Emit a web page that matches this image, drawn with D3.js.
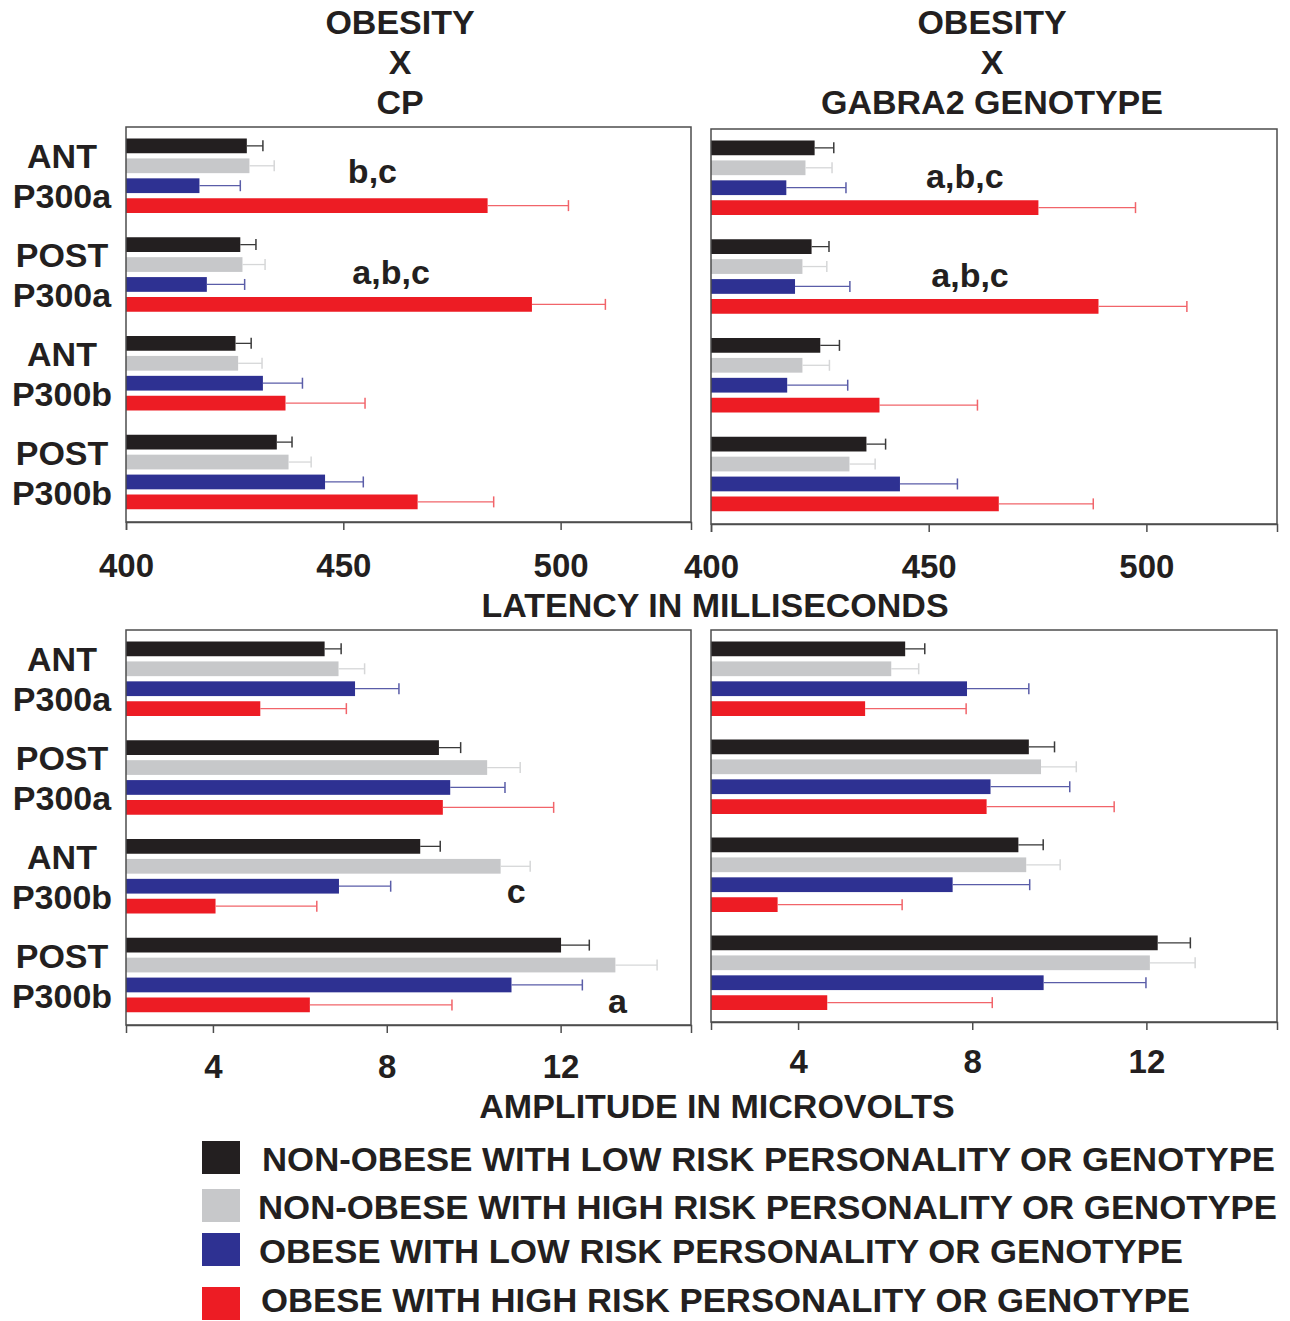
<!DOCTYPE html>
<html>
<head>
<meta charset="utf-8">
<script src="https://cdnjs.cloudflare.com/ajax/libs/d3/7.8.5/d3.min.js"></script>
<style>
  body { margin: 0; background: #fff; }
  text { font-family: "Liberation Sans", Arial, sans-serif; font-weight: bold; fill: #231f20; }
</style>
</head>
<body>
<div id="chart"></div>
<script>
// rows and bar series
var groups = ["ANT P300a", "POST P300a", "ANT P300b", "POST P300b"];
var series = [
  "NON-OBESE WITH LOW RISK PERSONALITY OR GENOTYPE",
  "NON-OBESE WITH HIGH RISK PERSONALITY OR GENOTYPE",
  "OBESE WITH LOW RISK PERSONALITY OR GENOTYPE",
  "OBESE WITH HIGH RISK PERSONALITY OR GENOTYPE"
];

// latency (ms), obesity x CP : one row per group, one value per series
var latCP   = [[427.8, 428.4, 416.9, 483.2], [426.3, 426.8, 418.6, 493.4], [425.2, 425.8, 431.5, 436.7], [434.7, 437.4, 445.8, 467.1]];
var latCPse = [[3.7, 5.7, 9.4, 18.6], [3.6, 5.2, 8.7, 16.9], [3.6, 5.5, 9.1, 18.3], [3.5, 5.2, 8.8, 17.5]];

// latency (ms), obesity x GABRA2 genotype
var latGA   = [[423.8, 421.7, 417.3, 475.2], [423.1, 421.0, 419.3, 489.0], [425.1, 421.0, 417.5, 438.7], [435.7, 431.8, 443.4, 466.1]];
var latGAse = [[4.4, 6.1, 13.7, 22.3], [4.0, 5.6, 12.6, 20.3], [4.4, 6.2, 13.9, 22.5], [4.4, 5.9, 13.2, 21.7]];

// amplitude (microvolts), obesity x CP
var ampCP   = [[6.57, 6.89, 7.27, 5.09], [9.20, 10.31, 9.46, 9.29], [8.77, 10.62, 6.90, 4.06], [12.01, 13.26, 10.87, 6.23]];
var ampCPse = [[0.38, 0.60, 1.01, 1.98], [0.50, 0.76, 1.26, 2.55], [0.46, 0.68, 1.19, 2.33], [0.65, 0.96, 1.63, 3.27]];

// amplitude (microvolts), obesity x GABRA2 genotype
var ampGA   = [[6.46, 6.14, 7.88, 5.54], [9.30, 9.58, 8.42, 8.33], [9.06, 9.24, 7.55, 3.53], [12.26, 12.08, 9.64, 4.67]];
var ampGAse = [[0.45, 0.63, 1.42, 2.32], [0.59, 0.81, 1.82, 2.93], [0.57, 0.78, 1.77, 2.86], [0.75, 1.04, 2.35, 3.79]];

var latencyTicks = [400, 450, 500];
var amplitudeTicks = [4, 8, 12];

// significance letters: panel, row, x value
var notes = [
  {panel: 0, group: 0, x: 456.7, dy: 7,  text: "b,c"},
  {panel: 0, group: 1, x: 461.0, dy: 9,  text: "a,b,c"},
  {panel: 1, group: 0, x: 458.3, dy: 10, text: "a,b,c"},
  {panel: 1, group: 1, x: 459.5, dy: 10, text: "a,b,c"},
  {panel: 2, group: 2, x: 10.98, dy: 26, text: "c"},
  {panel: 2, group: 3, x: 13.31, dy: 37, text: "a"}
];

var colors = ["#231f20", "#c7c8ca", "#2e3192", "#ed1c24"];
var errColors = ["#3a3a3a", "#d6d7d8", "#5a5da8", "#f1646a"];

var width = 1290, height = 1321;

var svg = d3.select("#chart")
  .append("svg")
    .attr("width", width)
    .attr("height", height);

var panels = [
  {means: latCP, se: latCPse, domain: [400, 530], ticks: latencyTicks, left: 126, right: 691, top: 127, bottom: 522, pad: 24, labels: true},
  {means: latGA, se: latGAse, domain: [400, 530], ticks: latencyTicks, left: 711, right: 1277, top: 129, bottom: 524, pad: 23, labels: false},
  {means: ampCP, se: ampCPse, domain: [2, 15], ticks: amplitudeTicks, left: 126, right: 691, top: 630, bottom: 1025, pad: 22, labels: true},
  {means: ampGA, se: ampGAse, domain: [2, 15], ticks: amplitudeTicks, left: 711, right: 1277, top: 630, bottom: 1022, pad: 20, labels: false}
];

// inner band for the 4 bars of a row
var yInner = d3.scaleBand()
  .domain(d3.range(series.length))
  .range([11.5, 86])
  .paddingInner(0.26);

panels.forEach(function(p, pi) {
  var x = d3.scaleLinear().domain(p.domain).range([p.left, p.right]);
  var y = d3.scaleBand().domain(groups).range([p.top, p.bottom]);
  p.x = x; p.y = y;

  var g = svg.append("g");

  var cells = [];
  groups.forEach(function(grp, gi) {
    series.forEach(function(s, si) {
      cells.push({group: grp, s: si, v: p.means[gi][si], e: p.se[gi][si]});
    });
  });

  // bars
  g.selectAll("rect.bar")
    .data(cells)
    .enter()
    .append("rect")
      .attr("class", "bar")
      .attr("x", x(p.domain[0]))
      .attr("y", function(d) { return y(d.group) + yInner(d.s); })
      .attr("width", function(d) { return x(d.v) - x(p.domain[0]); })
      .attr("height", yInner.bandwidth())
      .attr("fill", function(d) { return colors[d.s]; });

  // error bars
  var cy = function(d) { return y(d.group) + yInner(d.s) + yInner.bandwidth() / 2; };
  g.selectAll("line.err")
    .data(cells)
    .enter()
    .append("line")
      .attr("x1", function(d) { return x(d.v); })
      .attr("x2", function(d) { return x(d.v + d.e); })
      .attr("y1", cy)
      .attr("y2", cy)
      .attr("stroke", function(d) { return errColors[d.s]; })
      .attr("stroke-width", 1.3);
  g.selectAll("line.cap")
    .data(cells)
    .enter()
    .append("line")
      .attr("x1", function(d) { return x(d.v + d.e); })
      .attr("x2", function(d) { return x(d.v + d.e); })
      .attr("y1", function(d) { return cy(d) - 5.5; })
      .attr("y2", function(d) { return cy(d) + 5.5; })
      .attr("stroke", function(d) { return errColors[d.s]; })
      .attr("stroke-width", 1.5);

  // frame
  g.append("rect")
    .attr("x", p.left)
    .attr("y", p.top)
    .attr("width", p.right - p.left)
    .attr("height", p.bottom - p.top)
    .attr("fill", "none")
    .attr("stroke", "#4d4d4d")
    .attr("stroke-width", 1.5);

  // x axis
  var ax = g.append("g")
    .attr("transform", "translate(0," + p.bottom + ")")
    .call(d3.axisBottom(x).tickValues(p.ticks).tickSize(8).tickSizeOuter(8).tickPadding(p.pad));
  ax.select(".domain").attr("stroke", "#4d4d4d").attr("stroke-width", 1.5);
  ax.selectAll(".tick line").attr("stroke", "#4d4d4d").attr("stroke-width", 1.5);
  ax.selectAll(".tick text")
    .attr("font-size", 33)
    .attr("font-family", null)
    .attr("fill", "#231f20");

  // row labels
  if (p.labels) {
    groups.forEach(function(grp) {
      var parts = grp.split(" ");
      var c = y(grp) + y.bandwidth() / 2;
      g.append("text")
        .attr("x", 62)
        .attr("y", c - 8)
        .attr("text-anchor", "middle")
        .attr("font-size", 34)
        .text(parts[0]);
      g.append("text")
        .attr("x", 62)
        .attr("y", c + 32)
        .attr("text-anchor", "middle")
        .attr("font-size", 34)
        .text(parts[1]);
    });
  }
});

// significance letters
svg.selectAll("text.note")
  .data(notes)
  .enter()
  .append("text")
    .attr("class", "note")
    .attr("x", function(d) { return panels[d.panel].x(d.x); })
    .attr("y", function(d) {
      var p = panels[d.panel];
      return p.y(groups[d.group]) + p.y.bandwidth() / 2 + d.dy;
    })
    .attr("text-anchor", "middle")
    .attr("font-size", 34)
    .text(function(d) { return d.text; });

// column titles
var titles = [["OBESITY", "X", "CP"], ["OBESITY", "X", "GABRA2 GENOTYPE"]];
var titleX = [400, 992];
titles.forEach(function(lines, i) {
  lines.forEach(function(t, j) {
    svg.append("text")
      .attr("x", titleX[i])
      .attr("y", 34 + j * 40)
      .attr("text-anchor", "middle")
      .attr("font-size", 34)
      .text(t);
  });
});

// axis titles
svg.append("text")
  .attr("x", 715)
  .attr("y", 617)
  .attr("text-anchor", "middle")
  .attr("font-size", 34)
  .text("LATENCY IN MILLISECONDS");

svg.append("text")
  .attr("x", 717)
  .attr("y", 1118)
  .attr("text-anchor", "middle")
  .attr("font-size", 34)
  .text("AMPLITUDE IN MICROVOLTS");

// legend
var legY = [1141, 1189, 1233, 1287];
var legTextY = [1171, 1219, 1263, 1312];
var legTextX = [262, 258, 259, 261];
var legWidth = [1013, 1019, 924, 929];
var legend = svg.selectAll("g.leg")
  .data(series)
  .enter()
  .append("g")
    .attr("class", "leg");
legend.append("rect")
  .attr("x", 202)
  .attr("y", function(d, i) { return legY[i]; })
  .attr("width", 38)
  .attr("height", 33)
  .attr("fill", function(d, i) { return colors[i]; });
legend.append("text")
  .attr("x", function(d, i) { return legTextX[i]; })
  .attr("y", function(d, i) { return legTextY[i]; })
  .attr("font-size", 33)
  .attr("textLength", function(d, i) { return legWidth[i]; })
  .attr("lengthAdjust", "spacingAndGlyphs")
  .text(function(d) { return d; });
</script>
</body>
</html>
